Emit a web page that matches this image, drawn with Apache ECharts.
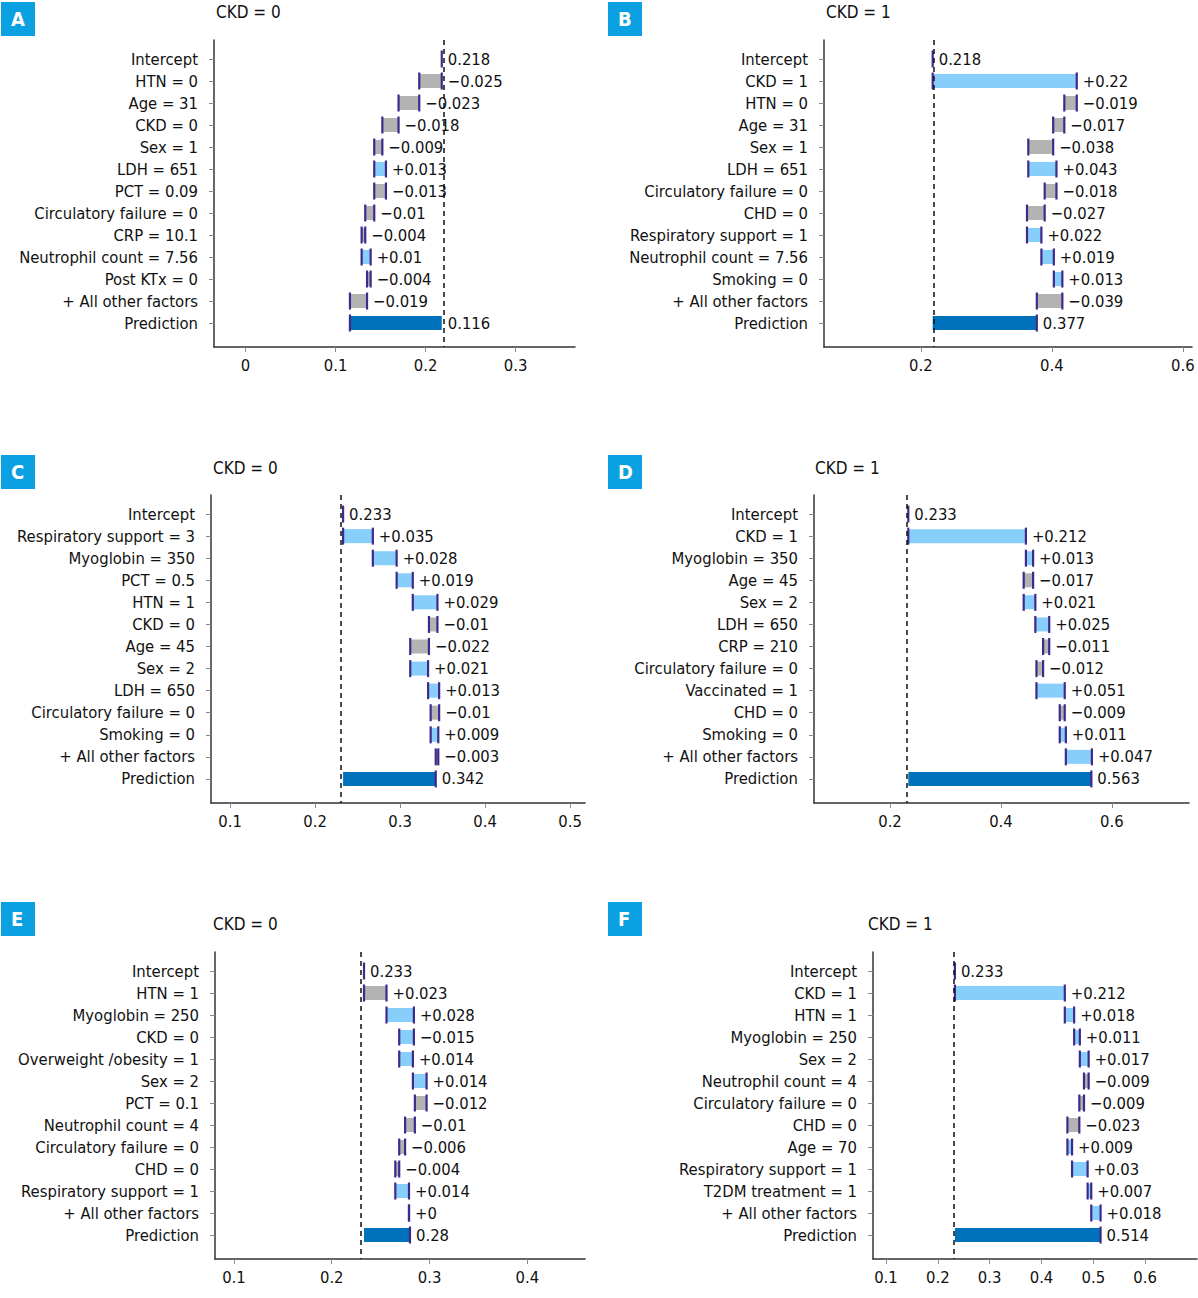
<!DOCTYPE html>
<html lang="en">
<head>
	<meta charset="UTF-8">
	<title>Break-down plots</title>
	<script src="https://cdn.jsdelivr.net/npm/echarts@6/dist/echarts.min.js"></script>
	<style>
		html, body {margin: 0; padding: 0; background: #fff;}
		#chartBox {width: 1198px; height: 1298px;}
	</style>
</head>
<body>
<div id="chartBox"></div>
<script>
    // panel data: row names, intercept, contributions, prediction
    var catsA = ['Intercept', 'HTN = 0', 'Age = 31', 'CKD = 0', 'Sex = 1', 'LDH = 651', 'PCT = 0.09', 'Circulatory failure = 0', 'CRP = 10.1', 'Neutrophil count = 7.56', 'Post KTx = 0', '+ All other factors', 'Prediction'];
    var interceptA = 0.218;
    var contribA = [-0.025, -0.023, -0.018, -0.009, 0.013, -0.013, -0.01, -0.004, 0.01, -0.004, -0.019];
    var predA = 0.116;

    var catsB = ['Intercept', 'CKD = 1', 'HTN = 0', 'Age = 31', 'Sex = 1', 'LDH = 651', 'Circulatory failure = 0', 'CHD = 0', 'Respiratory support = 1', 'Neutrophil count = 7.56', 'Smoking = 0', '+ All other factors', 'Prediction'];
    var interceptB = 0.218;
    var contribB = [0.22, -0.019, -0.017, -0.038, 0.043, -0.018, -0.027, 0.022, 0.019, 0.013, -0.039];
    var predB = 0.377;

    var catsC = ['Intercept', 'Respiratory support = 3', 'Myoglobin = 350', 'PCT = 0.5', 'HTN = 1', 'CKD = 0', 'Age = 45', 'Sex = 2', 'LDH = 650', 'Circulatory failure = 0', 'Smoking = 0', '+ All other factors', 'Prediction'];
    var interceptC = 0.233;
    var contribC = [0.035, 0.028, 0.019, 0.029, -0.01, -0.022, 0.021, 0.013, -0.01, 0.009, -0.003];
    var predC = 0.342;

    var catsD = ['Intercept', 'CKD = 1', 'Myoglobin = 350', 'Age = 45', 'Sex = 2', 'LDH = 650', 'CRP = 210', 'Circulatory failure = 0', 'Vaccinated = 1', 'CHD = 0', 'Smoking = 0', '+ All other factors', 'Prediction'];
    var interceptD = 0.233;
    var contribD = [0.212, 0.013, -0.017, 0.021, 0.025, -0.011, -0.012, 0.051, -0.009, 0.011, 0.047];
    var predD = 0.563;

    var catsE = ['Intercept', 'HTN = 1', 'Myoglobin = 250', 'CKD = 0', 'Overweight /obesity = 1', 'Sex = 2', 'PCT = 0.1', 'Neutrophil count = 4', 'Circulatory failure = 0', 'CHD = 0', 'Respiratory support = 1', '+ All other factors', 'Prediction'];
    var interceptE = 0.233;
    var contribE = [0.023, 0.028, -0.015, 0.014, 0.014, -0.012, -0.01, -0.006, -0.004, 0.014, 0];
    var predE = 0.28;

    var catsF = ['Intercept', 'CKD = 1', 'HTN = 1', 'Myoglobin = 250', 'Sex = 2', 'Neutrophil count = 4', 'Circulatory failure = 0', 'CHD = 0', 'Age = 70', 'Respiratory support = 1', 'T2DM treatment = 1', '+ All other factors', 'Prediction'];
    var interceptF = 0.233;
    var contribF = [0.212, 0.018, 0.011, 0.017, -0.009, -0.009, -0.023, 0.009, 0.03, 0.007, 0.018];
    var predF = 0.514;

    var xTicksA = [0, 0.1, 0.2, 0.3];
    var xTicksB = [0.2, 0.4, 0.6];
    var xTicksC = [0.1, 0.2, 0.3, 0.4, 0.5];
    var xTicksD = [0.2, 0.4, 0.6];
    var xTicksE = [0.1, 0.2, 0.3, 0.4];
    var xTicksF = [0.1, 0.2, 0.3, 0.4, 0.5, 0.6];

    var FONT = '"Liberation Sans Narrow", "DejaVu Sans Condensed", "Roboto", sans-serif';
    var POS = '#87CEFA', NEG = '#B3B3B3', PRED = '#0072BC', EDGE = '#3F2A8C';
    var FS = 16.5;

    // layout of each panel (flip = rows drawn with the other shade, as in the source)
    var panels = [
        {tag: 'A', title: 'CKD = 0', cats: catsA, b: interceptA, c: contribA, p: predA, ticks: xTicksA,
            grid: {left: 214, top: 40, width: 361, height: 307}, min: -0.035, max: 0.366, tx: 216, ty: 12, bx: 1, by: 2},
        {tag: 'B', title: 'CKD = 1', cats: catsB, b: interceptB, c: contribB, p: predB, ticks: xTicksB,
            grid: {left: 824, top: 40, width: 368, height: 307}, min: 0.052, max: 0.614, tx: 826, ty: 12, bx: 608, by: 2},
        {tag: 'C', title: 'CKD = 0', cats: catsC, b: interceptC, c: contribC, p: predC, ticks: xTicksC,
            grid: {left: 211, top: 495, width: 374, height: 308}, min: 0.0776, max: 0.5176, tx: 213, ty: 468, bx: 1, by: 455},
        {tag: 'D', title: 'CKD = 1', cats: catsD, b: interceptD, c: contribD, p: predD, ticks: xTicksD,
            grid: {left: 814, top: 495, width: 375, height: 308}, min: 0.063, max: 0.739, tx: 815, ty: 468, bx: 608, by: 455},
        {tag: 'E', title: 'CKD = 0', cats: catsE, b: interceptE, c: contribE, p: predE, ticks: xTicksE, flip: [1, 3],
            grid: {left: 215, top: 952, width: 370, height: 307}, min: 0.0806, max: 0.459, tx: 213, ty: 924, bx: 1, by: 902},
        {tag: 'F', title: 'CKD = 1', cats: catsF, b: interceptF, c: contribF, p: predF, ticks: xTicksF,
            grid: {left: 873, top: 952, width: 324, height: 307}, min: 0.075, max: 0.700, tx: 868, ty: 924, bx: 608, by: 902}
    ];

    function fmtSigned(v) {
        return (v < 0 ? '\u2212' : '+') + String(Math.abs(v));
    }

    // rows: [row, start, end, kind, text] kind 0 intercept, 1 up, 2 down, 3 prediction
    function buildRows(pn) {
        var rows = [[0, pn.b, pn.b, 0, String(pn.b)]];
        var cur = pn.b;
        pn.c.forEach(function (v, i) {
            var r = i + 1;
            var up = v >= 0;
            if (pn.flip && pn.flip.indexOf(r) >= 0) up = !up;
            rows.push([r, cur, cur + v, up ? 1 : 2, fmtSigned(v)]);
            cur += v;
        });
        rows.push([pn.c.length + 1, pn.b, pn.p, 3, String(pn.p)]);
        return rows;
    }

    function makeRender(rows) {
        return function (params, api) {
            var d = rows[params.dataIndex];
            var a = api.coord([d[1], d[0]]);
            var z = api.coord([d[2], d[0]]);
            var y = a[1];
            var x0 = Math.min(a[0], z[0]), x1 = Math.max(a[0], z[0]);
            var kids = [];
            if (d[3] !== 0) {
                kids.push({
                    type: 'rect',
                    shape: {x: x0, y: y - 7, width: x1 - x0, height: 14},
                    style: {fill: d[3] === 1 ? POS : (d[3] === 2 ? NEG : PRED)}
                });
            }
            var edges = d[3] === 3 ? [z[0]] : (d[3] === 0 ? [a[0]] : [a[0], z[0]]);
            edges.forEach(function (ex) {
                kids.push({
                    type: 'rect',
                    shape: {x: ex - 1.1, y: y - 8.5, width: 2.2, height: 17},
                    style: {fill: EDGE}
                });
            });
            kids.push({
                type: 'text',
                x: x1 + 6, y: y,
                style: {text: d[4], fill: '#111', font: FS + 'px ' + FONT, verticalAlign: 'middle', align: 'left'}
            });
            return {type: 'group', children: kids};
        };
    }

    var grids = [], xAxes = [], yAxes = [], series = [], graphics = [];
    panels.forEach(function (pn, k) {
        var rows = buildRows(pn);
        var idx = [];
        for (var i = 0; i < pn.cats.length; i++) idx.push(i);
        grids.push(pn.grid);
        xAxes.push({
            type: 'value', gridIndex: k, min: pn.min, max: pn.max,
            axisLine: {show: true, onZero: false, lineStyle: {color: '#333', width: 1.5}},
            axisTick: {show: true, customValues: pn.ticks, length: 5, lineStyle: {color: '#888'}},
            axisLabel: {customValues: pn.ticks, margin: 10, color: '#111', fontSize: FS, fontFamily: FONT,
                formatter: function (v) { return String(Math.round(v * 10) / 10); }},
            splitLine: {show: false}
        });
        yAxes.push({
            type: 'value', gridIndex: k, inverse: true, min: -0.864, max: 13.09,
            axisLine: {show: true, onZero: false, lineStyle: {color: '#333', width: 1.5}},
            axisTick: {show: true, customValues: idx, length: 5, lineStyle: {color: '#888'}},
            axisLabel: {customValues: idx, margin: 16, color: '#111', fontSize: FS, fontFamily: FONT,
                formatter: function (v) { return pn.cats[Math.round(v)]; }},
            splitLine: {show: false}
        });
        series.push({
            type: 'custom', xAxisIndex: k, yAxisIndex: k,
            renderItem: makeRender(rows),
            data: rows.map(function (r) { return [r[1], r[0], r[2]]; }),
            encode: {x: [0, 2], y: 1},
            clip: false, silent: true,
            markLine: {
                silent: true, symbol: 'none', animation: false,
                label: {show: false},
                lineStyle: {color: '#111', type: [5, 4], width: 1.5},
                data: [{xAxis: pn.b}]
            },
            z: 2
        });
        graphics.push({
            type: 'rect', left: pn.bx, top: pn.by, shape: {width: 34, height: 34},
            style: {fill: '#0BA0E1'}
        });
        graphics.push({
            type: 'text', left: pn.bx + 10, top: pn.by + 7,
            style: {text: pn.tag, fill: '#fff', font: 'bold 20px ' + FONT}
        });
        graphics.push({
            type: 'text', left: pn.tx, top: pn.ty - 9,
            style: {text: pn.title, fill: '#111', font: '17px ' + FONT}
        });
    });

    var myChart = echarts.init(document.getElementById('chartBox'), null, {renderer: 'svg'});
    myChart.setOption({
        animation: false,
        grid: grids,
        xAxis: xAxes,
        yAxis: yAxes,
        series: series,
        graphic: graphics
    });
</script>
</body>
</html>
